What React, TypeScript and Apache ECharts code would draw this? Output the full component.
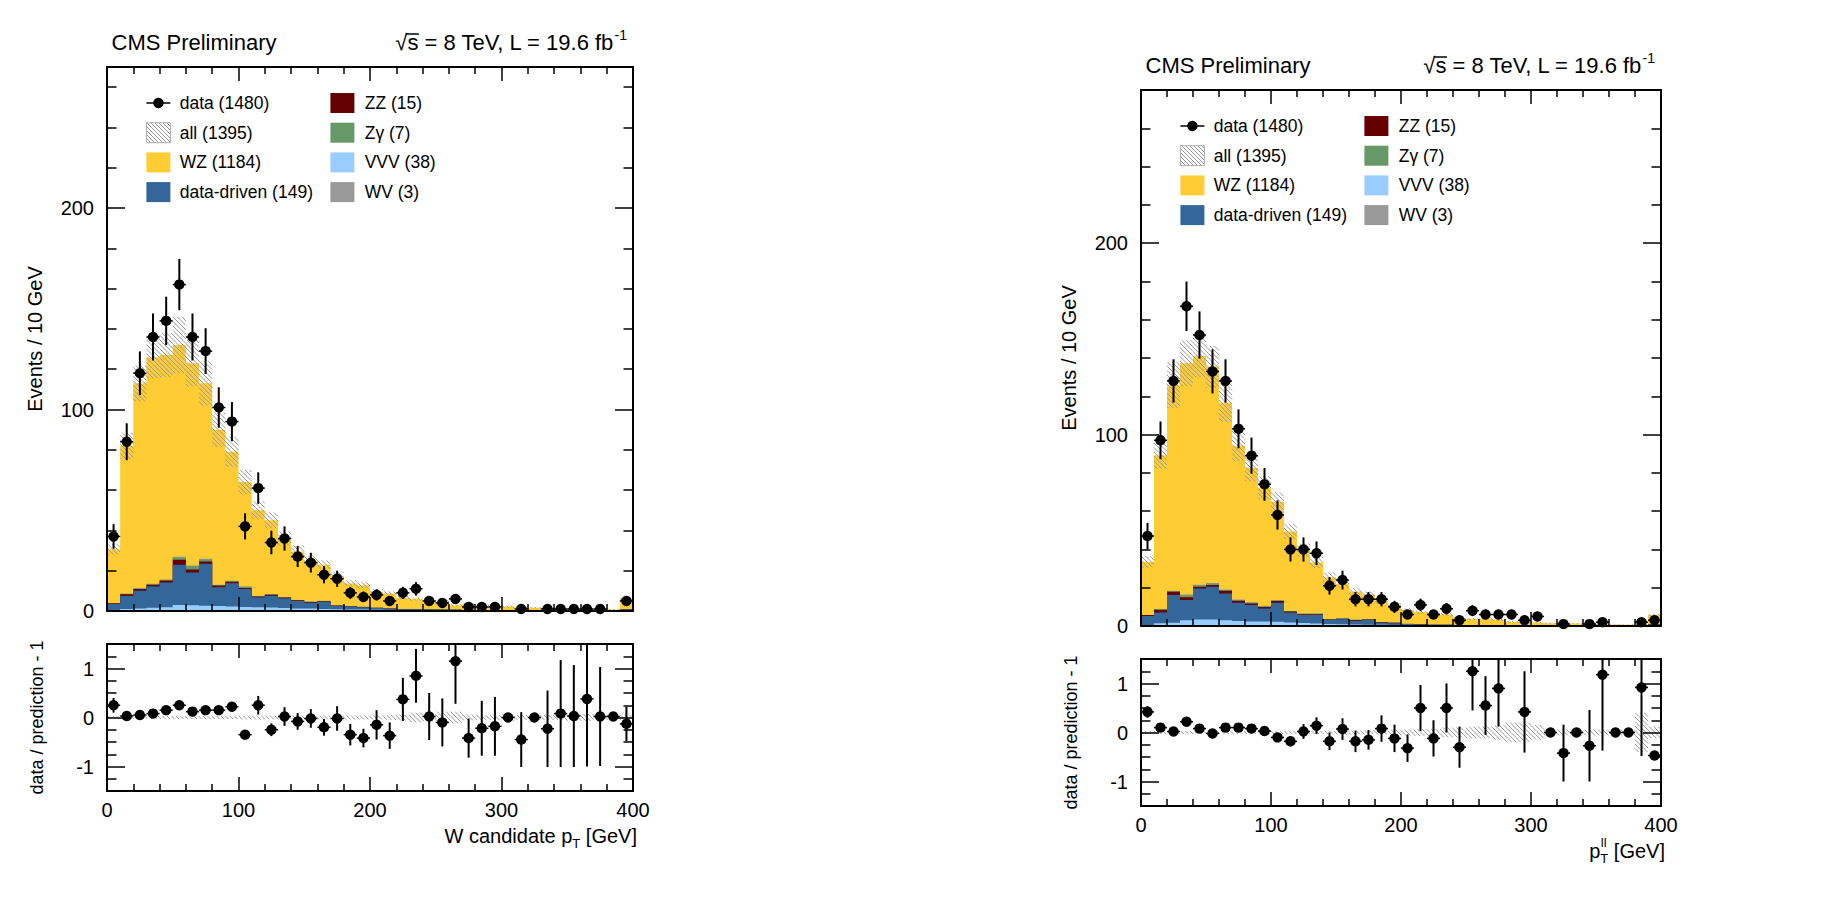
import React, { useEffect, useRef } from "react";
import * as echarts from "echarts";

const FONT = "'Liberation Sans', Arial, Helvetica, sans-serif";

// ---------- binning (10 GeV bins, 0-400 GeV) ----------
const BIN_LOW = [0, 10, 20, 30, 40, 50, 60, 70, 80, 90, 100, 110, 120, 130, 140, 150, 160, 170, 180, 190,
  200, 210, 220, 230, 240, 250, 260, 270, 280, 290, 300, 310, 320, 330, 340, 350, 360, 370, 380, 390];
const BIN_W = 10;

// ---------- axis ticks ----------
const X_MAJOR = [0, 100, 200, 300, 400];
const X_MINOR = [20, 40, 60, 80, 120, 140, 160, 180, 220, 240, 260, 280, 320, 340, 360, 380];
const Y_MAJOR = [0, 100, 200];
const Y_MINOR = [20, 40, 60, 80, 120, 140, 160, 180, 220, 240, 260];
const R_MAJOR = [-1, 0, 1];
const R_MINOR = [-1.25, -0.75, -0.5, -0.25, 0.25, 0.5, 0.75, 1.25];

// ---------- legend ----------
const LEGEND_LEFT = ["data (1480)", "all (1395)", "WZ (1184)", "data-driven (149)"];
const LEGEND_RIGHT = ["ZZ (15)", "Zγ (7)", "VVV (38)", "WV (3)"];
const COLORS = { WZ: "#ffcc33", DD: "#336699", ZZ: "#660000", ZG: "#669966", VVV: "#99ccff", WV: "#999999" };

// ---------- left panel: W candidate pT ----------
const L_DATA = [37, 84, 118, 136, 144, 162, 136, 129, 101, 94, 42, 61, 34, 36, 27, 24, 18, 16, 9, 7, 8, 5, 9, 11, 5, 4, 6, 2, 2, 2, 0, 1, 0, 1, 1, 1, 1, 1, 0, 5];
const L_VVV = [0.3, 1.0, 1.3, 1.6, 1.8, 3.0, 2.8, 2.6, 2.5, 2.2, 2.0, 1.8, 1.7, 1.5, 1.3, 1.2, 1.0, 0.9, 0.8, 0.7, 0.6, 0.5, 0.4, 0.4, 0.3, 0.3, 0.3, 0.2, 0.2, 0.2, 0.15, 0.15, 0.1, 0.1, 0.1, 0.1, 0.1, 0.1, 0.1, 0.4];
const L_DD = [3.2, 6.5, 8.8, 10.5, 12.3, 19.9, 16.3, 20.8, 9.3, 11.6, 8.9, 5.0, 5.9, 4.8, 3.7, 2.9, 3.6, 1.6, 1.4, 1.1, 0.9, 0.6, 0.5, 0.5, 0.4, 0.3, 0.3, 0.3, 0.2, 0.2, 0.2, 0.2, 0.1, 0.1, 0.1, 0.1, 0.1, 0.1, 0.1, 0.4];
const L_ZZ = [0.3, 0.8, 0.8, 0.9, 1.0, 2.5, 1.5, 1.2, 0.8, 0.7, 0.5, 0.4, 0.5, 0.4, 0.3, 0.4, 0.3, 0.2, 0.2, 0.2, 0.1, 0.1, 0.1, 0.05, 0.05, 0.05, 0.05, 0.05, 0.05, 0.05, 0.05, 0.05, 0.05, 0.05, 0.05, 0.05, 0.05, 0.05, 0.05, 0.1];
const L_ZG = [0, 0.2, 0.3, 0.3, 0.2, 1.2, 1.7, 1.0, 0.2, 0.3, 0.6, 0.2, 0.2, 0.1, 0.1, 0.1, 0.1, 0.05, 0.05, 0.05, 0.05, 0.05, 0.05, 0.05, 0.05, 0.3, 0.05, 0, 0, 0, 0, 0, 0, 0, 0, 0, 0, 0, 0, 0];
const L_WV = [0, 0.1, 0.2, 0.2, 0.3, 0.3, 0.3, 0.3, 0.2, 0.2, 0.2, 0.1, 0.1, 0.1, 0.1, 0.1, 0.1, 0, 0, 0, 0, 0, 0, 0, 0, 0, 0, 0, 0, 0, 0, 0, 0, 0, 0, 0, 0, 0, 0, 0];
const L_WZ = [26.8, 73.4, 101.6, 112.5, 111.4, 105.1, 100.4, 87.1, 77.0, 64.0, 51.8, 42.5, 36.6, 29.1, 24.0, 20.3, 17.9, 14.75, 11.25, 10.75, 7.95, 7.45, 5.55, 4.9, 4.1, 3.65, 2.2, 2.85, 2.15, 1.95, 1.8, 1.4, 1.35, 1.05, 0.7, 0.72, 0.47, 0.73, 0.55, 4.9];
const L_UNC = [2.5, 6.5, 9, 10.5, 11, 14, 11.5, 11, 8.5, 7.5, 6, 4.5, 4, 3.5, 3, 2.5, 2.2, 2, 1.6, 1.5, 1.2, 1.1, 0.9, 0.8, 0.7, 0.7, 0.5, 0.6, 0.5, 0.5, 0.5, 0.4, 0.4, 0.3, 0.3, 0.3, 0.3, 0.3, 0.3, 0.8];
const L_RATIO = [0.25, 0.03, 0.05, 0.08, 0.15, 0.25, 0.12, 0.15, 0.15, 0.22, -0.35, 0.25, -0.25, 0.02, -0.08, -0.02, -0.2, -0.02, -0.35, -0.42, -0.15, -0.37, 0.37, 0.85, 0.02, -0.1, 1.15, -0.42, -0.22, -0.18, 0.0, -0.45, 0.0, -0.23, 0.08, 0.03, 0.38, 0.02, 0.02, -0.13];
const L_RATIO_ERR = [0.15, 0.06, 0.05, 0.05, 0.06, 0.06, 0.06, 0.07, 0.08, 0.08, 0.09, 0.19, 0.13, 0.19, 0.17, 0.19, 0.17, 0.25, 0.22, 0.19, 0.3, 0.27, 0.44, 0.55, 0.48, 0.49, 0.87, 0.4, 0.56, 0.6, 0, 0.56, 0, 0.78, 1.09, 1.04, 1.38, 1.01, 0, 0.35];
const L_RATIO_UNC = [0.03, 0.03, 0.03, 0.03, 0.03, 0.03, 0.03, 0.03, 0.03, 0.03, 0.04, 0.04, 0.04, 0.04, 0.04, 0.04, 0.04, 0.04, 0.04, 0.04, 0.04, 0.05, 0.06, 0.1, 0.07, 0.12, 0.12, 0.06, 0.05, 0.05, 0.07, 0.05, 0.05, 0.05, 0.05, 0.07, 0.07, 0.05, 0.05, 0.05];

// ---------- right panel: pT(ll) ----------
const R_DATA = [47, 97, 128, 167, 152, 133, 128, 103, 89, 74, 58, 40, 40, 38, 21, 24, 14, 14, 14, 10, 6, 11, 6, 9, 3, 8, 6, 6, 6, 3, 5, 0, 1, 0, 1, 2, 0, 0, 2, 3];
const R_VVV = [0.5, 1.4, 1.7, 3.0, 3.4, 3.4, 3.0, 2.6, 2.4, 2.4, 2.2, 1.8, 1.6, 1.3, 1.1, 0.9, 0.8, 0.7, 0.6, 0.5, 0.4, 0.4, 0.3, 0.3, 0.2, 0.2, 0.2, 0.2, 0.1, 0.1, 0.1, 0.1, 0.1, 0.1, 0.1, 0.1, 0.1, 0.1, 0.1, 0.4];
const R_DD = [4.7, 5.6, 14.5, 10.6, 16.2, 17.1, 14.0, 9.6, 8.6, 6.8, 10.0, 5.2, 4.1, 4.4, 2.0, 2.6, 2.0, 2.4, 1.1, 0.9, 0.6, 0.4, 0.3, 0.3, 0.3, 0.3, 0.3, 0.3, 0.3, 0.3, 0.2, 0.2, 0.2, 0.2, 0.2, 0.1, 0.1, 0.1, 0.1, 0.4];
const R_ZZ = [0.5, 1.5, 1.7, 1.4, 0.9, 0.9, 1.4, 1.0, 0.7, 0.7, 0.9, 0.6, 0.5, 0.4, 0.3, 0.3, 0.3, 0.3, 0.3, 0.3, 0.1, 0.1, 0.1, 0.05, 0.05, 0.05, 0.05, 0.05, 0.05, 0.05, 0.05, 0.05, 0.05, 0.05, 0.05, 0.05, 0.05, 0.05, 0.05, 0.1];
const R_ZG = [0, 0.2, 0.3, 1.2, 0.8, 0.8, 0.4, 0.3, 0.5, 0.4, 0.3, 0.2, 0.2, 0.3, 0.2, 0.1, 0.1, 0.1, 0.1, 0.1, 0.05, 0, 0, 0, 0, 0, 0, 0, 0, 0, 0, 0, 0, 0, 0, 0, 0, 0, 0, 0];
const R_WV = [0, 0.1, 0.2, 0.2, 0.3, 0.3, 0.3, 0.3, 0.2, 0.2, 0.2, 0.1, 0.1, 0.1, 0.1, 0.1, 0.1, 0, 0, 0, 0, 0, 0, 0, 0, 0, 0, 0, 0, 0, 0, 0, 0, 0, 0, 0, 0, 0, 0, 0];
const R_WZ = [27.9, 80.4, 107.4, 120.8, 119.4, 112.9, 97.5, 80.3, 70.2, 61.7, 51.3, 41.5, 33.1, 26.7, 21.8, 18.0, 14.7, 12.9, 10.9, 9.1, 7.25, 6.4, 6.1, 5.35, 3.75, 3.05, 3.35, 2.65, 1.75, 1.65, 1.45, 1.15, 1.35, 0.95, 1.05, 0.67, 0.55, 0.45, 0.79, 4.8];
const R_UNC = [3, 7, 12, 12, 11, 11, 10, 8, 7, 6, 5, 4, 3.5, 3, 2.5, 2, 1.8, 1.6, 1.3, 1.1, 0.9, 0.8, 0.7, 0.7, 0.5, 0.5, 0.5, 0.5, 0.4, 0.4, 0.3, 0.3, 0.3, 0.3, 0.3, 0.3, 0.2, 0.2, 0.4, 0.6];
const R_RATIO = [0.42, 0.1, 0.02, 0.22, 0.08, -0.02, 0.1, 0.1, 0.08, 0.03, -0.1, -0.18, 0.02, 0.14, -0.18, 0.07, -0.18, -0.15, 0.08, -0.12, -0.32, 0.5, -0.12, 0.5, -0.3, 1.25, 0.55, 0.9, null, 0.42, null, 0.0, -0.42, 0.0, -0.27, 1.18, 0.0, 0.0, 0.92, -0.47];
const R_RATIO_ERR = [0.12, 0.06, 0.05, 0.05, 0.06, 0.06, 0.06, 0.07, 0.08, 0.08, 0.08, 0.1, 0.15, 0.17, 0.18, 0.22, 0.22, 0.2, 0.27, 0.28, 0.28, 0.47, 0.37, 0.5, 0.42, 0.8, 0.6, 0.78, 0, 0.83, 0, 0, 0.58, 0, 0.73, 1.55, 0, 0, 1.4, 0.08];
const R_RATIO_UNC = [0.03, 0.03, 0.03, 0.03, 0.03, 0.03, 0.03, 0.03, 0.03, 0.03, 0.03, 0.03, 0.03, 0.03, 0.03, 0.04, 0.04, 0.04, 0.04, 0.06, 0.06, 0.07, 0.07, 0.1, 0.1, 0.12, 0.12, 0.15, 0.2, 0.2, 0.15, 0.06, 0.06, 0.06, 0.06, 0.06, 0.06, 0.05, 0.4, 0.12];

type Rect = { left: number; top: number; width: number; height: number };
type Panel = {
  main: Rect; ratio: Rect; ymax: number; xtitle: "W" | "ll";
  data: number[]; vvv: number[]; dd: number[]; zz: number[]; zg: number[]; wv: number[]; wz: number[];
  unc: number[]; ratioV: (number | null)[]; ratioE: number[]; ratioU: number[];
};

const PANELS: Panel[] = [
  {
    main: { left: 107, top: 67, width: 526, height: 544 },
    ratio: { left: 107, top: 644, width: 526, height: 147 },
    ymax: 270, xtitle: "W",
    data: L_DATA, vvv: L_VVV, dd: L_DD, zz: L_ZZ, zg: L_ZG, wv: L_WV, wz: L_WZ,
    unc: L_UNC, ratioV: L_RATIO, ratioE: L_RATIO_ERR, ratioU: L_RATIO_UNC,
  },
  {
    main: { left: 1141, top: 90, width: 520, height: 536 },
    ratio: { left: 1141, top: 659, width: 520, height: 147 },
    ymax: 280, xtitle: "ll",
    data: R_DATA, vvv: R_VVV, dd: R_DD, zz: R_ZZ, zg: R_ZG, wv: R_WV, wz: R_WZ,
    unc: R_UNC, ratioV: R_RATIO, ratioE: R_RATIO_ERR, ratioU: R_RATIO_UNC,
  },
];

// ---------- helpers ----------
let measureCtx: CanvasRenderingContext2D | null = null;
function tw(text: string, size: number): number {
  if (!measureCtx) measureCtx = document.createElement("canvas").getContext("2d");
  measureCtx!.font = `${size}px ${FONT}`;
  return measureCtx!.measureText(text).width;
}

function txt(x: number, y: number, text: string, size: number, align = "left", extra: any = {}) {
  return {
    type: "text", x, y, silent: true, ...extra,
    style: {
      text, fontSize: size, fontFamily: FONT, fill: "#000",
      align, verticalAlign: "middle", textAlign: align, textVerticalAlign: "middle",
    },
  };
}

function hatchLines(x0: number, y0: number, x1: number, y1: number, s: number, color: string) {
  const out: any[] = [];
  if (y1 - y0 < 0.5 || x1 - x0 < 0.5) return out;
  const kmin = Math.ceil((y0 - x1) / s) * s;
  const kmax = y1 - x0;
  for (let k = kmin; k <= kmax; k += s) {
    const xa = Math.max(x0, y0 - k);
    const xb = Math.min(x1, y1 - k);
    if (xb - xa > 0.3) {
      out.push({ type: "line", shape: { x1: xa, y1: xa + k, x2: xb, y2: xb + k }, style: { stroke: color, lineWidth: 1 } });
    }
  }
  return out;
}

function cumulate(arrs: number[][]): number[][] {
  const res: number[][] = [];
  let acc = arrs[0].map(() => 0);
  for (const a of arrs) {
    acc = acc.map((v, i) => v + a[i]);
    res.push(acc.slice());
  }
  return res;
}

function stepSeries(xi: number, yi: number, cum: number[], color: string) {
  return {
    type: "custom", xAxisIndex: xi, yAxisIndex: yi, silent: true, z: 2,
    data: [[0, 0]],
    renderItem: (_p: any, api: any) => {
      const pts: number[][] = [];
      pts.push(api.coord([BIN_LOW[0], 0]));
      for (let i = 0; i < cum.length; i++) {
        pts.push(api.coord([BIN_LOW[i], cum[i]]));
        pts.push(api.coord([BIN_LOW[i] + BIN_W, cum[i]]));
      }
      pts.push(api.coord([BIN_LOW[cum.length - 1] + BIN_W, 0]));
      return { type: "polygon", shape: { points: pts }, style: { fill: color } };
    },
  };
}

function bandSeries(xi: number, yi: number, center: number[], half: number[], ymin: number, ymax: number) {
  return {
    type: "custom", xAxisIndex: xi, yAxisIndex: yi, silent: true, z: 3,
    data: [[0, 0]],
    renderItem: (_p: any, api: any) => {
      const children: any[] = [];
      for (let i = 0; i < center.length; i++) {
        const hi = Math.min(center[i] + half[i], ymax);
        const lo = Math.max(center[i] - half[i], ymin);
        const a = api.coord([BIN_LOW[i], hi]);
        const b = api.coord([BIN_LOW[i] + BIN_W, lo]);
        hatchLines(a[0], a[1], b[0], b[1], 4.5, "#9a9a9a").forEach((l) => children.push(l));
      }
      return { type: "group", children };
    },
  };
}

function pointSeries(xi: number, yi: number, vals: (number | null)[], errs: (number | null)[], ymin: number, ymax: number, skipZero: boolean) {
  return {
    type: "custom", xAxisIndex: xi, yAxisIndex: yi, silent: true, z: 5,
    data: [[0, 0]],
    renderItem: (_p: any, api: any) => {
      const children: any[] = [];
      for (let i = 0; i < vals.length; i++) {
        const v = vals[i];
        if (v === null || v === undefined) continue;
        if (skipZero && v <= 0) continue;
        const e = errs[i] || 0;
        const c = api.coord([BIN_LOW[i] + BIN_W / 2, v]);
        const l = api.coord([BIN_LOW[i], v]);
        const r = api.coord([BIN_LOW[i] + BIN_W, v]);
        if (e > 0) {
          const t = api.coord([BIN_LOW[i] + BIN_W / 2, Math.min(v + e, ymax)]);
          const b = api.coord([BIN_LOW[i] + BIN_W / 2, Math.max(v - e, ymin)]);
          children.push({ type: "line", shape: { x1: c[0], y1: t[1], x2: c[0], y2: b[1] }, style: { stroke: "#000", lineWidth: 2 } });
        }
        children.push({ type: "line", shape: { x1: l[0], y1: c[1], x2: r[0], y2: c[1] }, style: { stroke: "#000", lineWidth: 1.5 } });
        children.push({ type: "circle", shape: { cx: c[0], cy: c[1], r: 5.2 }, style: { fill: "#000" } });
      }
      return { type: "group", children };
    },
  };
}

function xAxesFor(g: number, labels: boolean) {
  const mk = (pos: string, ticks: number[], len: number, line: boolean, lab: boolean) => ({
    type: "value", gridIndex: g, min: 0, max: 400, position: pos, z: 10,
    axisLine: { show: line, onZero: false, lineStyle: { color: "#000", width: 2 } },
    axisTick: { show: true, inside: true, length: len, customValues: ticks, lineStyle: { color: "#000", width: 1.5 } },
    axisLabel: lab
      ? { show: true, customValues: X_MAJOR, margin: 9, color: "#000", fontSize: 20, fontFamily: FONT }
      : { show: false },
    splitLine: { show: false },
  });
  return [
    mk("bottom", X_MAJOR, 14, true, labels),
    mk("bottom", X_MINOR, 7, false, false),
    mk("top", X_MAJOR, 14, true, false),
    mk("top", X_MINOR, 7, false, false),
  ];
}

function yAxesFor(g: number, min: number, max: number, major: number[], minor: number[]) {
  const mk = (pos: string, ticks: number[], len: number, line: boolean, lab: boolean) => ({
    type: "value", gridIndex: g, min, max, position: pos, z: 10,
    axisLine: { show: line, onZero: false, lineStyle: { color: "#000", width: 2 } },
    axisTick: { show: true, inside: true, length: len, customValues: ticks, lineStyle: { color: "#000", width: 1.5 } },
    axisLabel: lab
      ? { show: true, customValues: major, margin: 13, color: "#000", fontSize: 20, fontFamily: FONT }
      : { show: false },
    splitLine: { show: false },
  });
  return [
    mk("left", major, 18, true, true),
    mk("left", minor, 9.5, false, false),
    mk("right", major, 18, true, false),
    mk("right", minor, 9.5, false, false),
  ];
}

function legendEls(fx: number, fy: number) {
  const els: any[] = [];
  const rowY = (i: number) => fy + 36 + 29.7 * i;
  const c1 = fx + 39.4;
  const c2 = fx + 223.4;
  const bw = 24, bh = 20;
  // data
  const y0 = rowY(0);
  els.push({ type: "line", silent: true, shape: { x1: c1, y1: y0, x2: c1 + bw, y2: y0 }, style: { stroke: "#000", lineWidth: 1.5 } });
  els.push({ type: "circle", silent: true, shape: { cx: c1 + bw / 2, cy: y0, r: 5.2 }, style: { fill: "#000" } });
  // all (hatched)
  const y1 = rowY(1);
  els.push({ type: "rect", silent: true, shape: { x: c1, y: y1 - bh / 2, width: bw, height: bh }, style: { fill: "#fff", stroke: "#b0b0b0", lineWidth: 1 } });
  hatchLines(c1, y1 - bh / 2, c1 + bw, y1 + bh / 2, 4, "#9a9a9a").forEach((l) => els.push({ ...l, silent: true }));
  // boxes
  const boxes: [number, number, string][] = [
    [c1, rowY(2), COLORS.WZ], [c1, rowY(3), COLORS.DD],
    [c2, rowY(0), COLORS.ZZ], [c2, rowY(1), COLORS.ZG], [c2, rowY(2), COLORS.VVV], [c2, rowY(3), COLORS.WV],
  ];
  boxes.forEach(([x, y, col]) => els.push({ type: "rect", silent: true, shape: { x, y: y - bh / 2, width: bw, height: bh }, style: { fill: col } }));
  LEGEND_LEFT.forEach((t, i) => els.push(txt(c1 + 33.3, rowY(i), t, 17.5)));
  LEGEND_RIGHT.forEach((t, i) => els.push(txt(c2 + 34.3, rowY(i), t, 17.5)));
  return els;
}

function headerEls(fx: number, fy: number, fr: number) {
  const els: any[] = [];
  const yc = fy - 24.5;
  els.push(txt(fx + 4.5, yc, "CMS Preliminary", 22));
  const main = "√s = 8 TeV, L = 19.6 fb";
  const sup = "-1";
  const wMain = tw(main, 22);
  const wSup = tw(sup, 14);
  const xs = fr - 6 - wMain - wSup;
  els.push(txt(xs, yc, main, 22));
  els.push(txt(xs + wMain, yc - 8, sup, 14));
  const xr0 = xs + tw("√", 22) * 0.85;
  const xr1 = xs + tw("√s", 22) + 0.5;
  els.push({ type: "line", silent: true, shape: { x1: xr0, y1: yc - 8.5, x2: xr1, y2: yc - 8.5 }, style: { stroke: "#000", lineWidth: 1.5 } });
  return els;
}

function xTitleEls(kind: "W" | "ll", xr: number, y: number) {
  const els: any[] = [];
  const big = 20, small = 13;
  if (kind === "W") {
    const a = "W candidate p", b = "T", c = " [GeV]";
    const wa = tw(a, big), wb = tw(b, small), wc = tw(c, big);
    const x0 = xr - wa - wb - wc;
    els.push(txt(x0, y, a, big));
    els.push(txt(x0 + wa, y + 7, b, small));
    els.push(txt(x0 + wa + wb, y, c, big));
  } else {
    const a = "p", c = " [GeV]";
    const wa = tw(a, big), wsup = tw("ll", small), wsub = tw("T", small), wc = tw(c, big);
    const wm = Math.max(wsup, wsub);
    const x0 = xr - wa - wm - wc;
    els.push(txt(x0, y, a, big));
    els.push(txt(x0 + wa + 0.5, y - 9, "ll", small));
    els.push(txt(x0 + wa, y + 7, "T", small));
    els.push(txt(x0 + wa + wm, y, c, big));
  }
  return els;
}

function buildOption() {
  const grid: any[] = [];
  const xAxis: any[] = [];
  const yAxis: any[] = [];
  const series: any[] = [];
  const graphics: any[] = [];

  PANELS.forEach((p) => {
    const gm = grid.length;
    grid.push({ ...p.main, containLabel: false, show: false });
    const gr = grid.length;
    grid.push({ ...p.ratio, containLabel: false, show: false });

    xAxis.push(...xAxesFor(gm, false));
    yAxis.push(...yAxesFor(gm, 0, p.ymax, Y_MAJOR, Y_MINOR));
    xAxis.push(...xAxesFor(gr, true));
    yAxis.push(...yAxesFor(gr, -1.5, 1.5, R_MAJOR, R_MINOR));

    const xm = gm * 4, ym = gm * 4, xr = gr * 4, yr = gr * 4;
    // stack order (bottom to top): VVV, data-driven, ZZ, Zgamma, WV, WZ
    const cum = cumulate([p.vvv, p.dd, p.zz, p.zg, p.wv, p.wz]);
    const cols = [COLORS.VVV, COLORS.DD, COLORS.ZZ, COLORS.ZG, COLORS.WV, COLORS.WZ];
    for (let k = cum.length - 1; k >= 0; k--) series.push(stepSeries(xm, ym, cum[k], cols[k]));
    const total = cum[cum.length - 1];
    series.push(bandSeries(xm, ym, total, p.unc, 0, p.ymax));
    series.push(pointSeries(xm, ym, p.data, p.data.map((d) => Math.sqrt(d)), 0, p.ymax, true));

    series.push(bandSeries(xr, yr, p.ratioV.map(() => 0), p.ratioU, -1.5, 1.5));
    series.push(pointSeries(xr, yr, p.ratioV, p.ratioE, -1.5, 1.5, false));

    // texts
    const fx = p.main.left, fy = p.main.top, fr = p.main.left + p.main.width;
    graphics.push(...headerEls(fx, fy, fr));
    graphics.push(...legendEls(fx, fy));
    graphics.push(txt(fx - 72, fy + p.main.height / 2, "Events / 10 GeV", 20, "center", { rotation: Math.PI / 2 }));
    graphics.push(txt(fx - 70, p.ratio.top + p.ratio.height / 2, "data / prediction - 1", 18, "center", { rotation: Math.PI / 2 }));
    graphics.push(...xTitleEls(p.xtitle, fr + 4, p.ratio.top + p.ratio.height + 45));
  });

  return {
    animation: false,
    backgroundColor: "#ffffff",
    grid, xAxis, yAxis, series,
    graphic: { elements: graphics },
  };
}

export default function App() {
  const ref = useRef<HTMLDivElement>(null);
  useEffect(() => {
    if (!ref.current) return;
    const chart = echarts.init(ref.current, null, { renderer: "svg" });
    chart.setOption(buildOption() as any);
    return () => chart.dispose();
  }, []);
  return (
    <div
      ref={ref}
      style={{ position: "fixed", left: 0, top: 0, width: "1838px", height: "904px", background: "#fff" }}
    />
  );
}
